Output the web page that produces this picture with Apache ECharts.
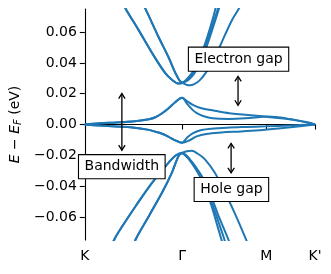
<!DOCTYPE html>
<html><head><meta charset="utf-8">
<script src="https://cdn.jsdelivr.net/npm/echarts@6/dist/echarts.min.js"></script>
<style>html,body{margin:0;padding:0;background:#fff}#c{width:331px;height:274px}</style>
</head><body><div id="c"></div>
<script>
// k-path positions (K, Γ, M, K') and labels
const kTicks = [0, 1.3333, 2.4880, 3.1547];
const kTickLabels = ['K', 'Γ', 'M', "K'"];
const eTicks = [-0.06, -0.04, -0.02, 0, 0.02, 0.04, 0.06];

// flat bands
const flatA = [[0,0],[0.203,0.0008],[0.428,0.0013],[0.653,0.0019],[0.879,0.0034],[0.968,0.0047],[1.059,0.0073],[1.149,0.0106],[1.239,0.0145],[1.333,0.0174],[1.40,0.0152],[1.48,0.0128],[1.60,0.0105],[1.75,0.0092],[1.98,0.0073],[2.20,0.0064],[2.43,0.0053],[2.65,0.0042],[2.88,0.0030],[3.05,0.0014],[3.155,0]];
const flatB = [[0,0],[0.203,0.0008],[0.428,0.0013],[0.653,0.0019],[0.879,0.0034],[0.968,0.0047],[1.059,0.0073],[1.149,0.0106],[1.239,0.0145],[1.333,0.0174],[1.40,0.0135],[1.47,0.0098],[1.53,0.0075],[1.62,0.0055],[1.75,0.0040],[1.98,0.0036],[2.20,0.0040],[2.40,0.0048],[2.50,0.0052],[2.65,0.0047],[2.80,0.0036],[2.95,0.0022],[3.155,0]];
const flatC = [[0,0],[0.203,-0.0007],[0.428,-0.0013],[0.653,-0.0019],[0.879,-0.0035],[0.968,-0.0047],[1.059,-0.0060],[1.149,-0.0080],[1.239,-0.0103],[1.333,-0.0118],[1.397,-0.0088],[1.478,-0.0057],[1.60,-0.0036],[1.735,-0.0027],[1.978,-0.0020],[2.208,-0.0016],[2.478,-0.0012],[2.817,-0.0006],[3.155,0]];
const flatD = [[0,0],[0.203,-0.0007],[0.428,-0.0013],[0.653,-0.0019],[0.879,-0.0035],[0.968,-0.0047],[1.059,-0.0060],[1.149,-0.0080],[1.239,-0.0103],[1.333,-0.0118],[1.437,-0.0102],[1.532,-0.0077],[1.667,-0.0061],[1.87,-0.0052],[2.14,-0.0045],[2.438,-0.0036],[2.817,-0.0018],[3.155,0]];

// remote conduction bands
const cond1 = [[0.491,0.0814],[0.563,0.0749],[0.744,0.0608],[0.924,0.0463],[1.103,0.0333],[1.194,0.0291],[1.285,0.0266],[1.333,0.0269],[1.40,0.0295],[1.47,0.0335],[1.54,0.0395],[1.61,0.0475],[1.68,0.0570],[1.75,0.0680],[1.80,0.0770],[1.84,0.0850]];
const cond2 = [[0.76,0.0814],[0.833,0.0749],[1.014,0.0565],[1.149,0.0435],[1.261,0.0316],[1.333,0.0273],[1.40,0.0287],[1.47,0.0322],[1.54,0.0378],[1.61,0.0455],[1.68,0.0545],[1.75,0.0645],[1.83,0.0760],[1.88,0.0840]];
const cond3 = [[0.76,0.0814],[0.833,0.0749],[1.014,0.0565],[1.149,0.0435],[1.261,0.0316],[1.333,0.0273],[1.40,0.0283],[1.47,0.0312],[1.54,0.0362],[1.61,0.0435],[1.68,0.0520],[1.75,0.0620],[1.82,0.0725],[1.87,0.0800],[1.92,0.0880]];
const cond4 = [[0.491,0.0814],[0.563,0.0749],[0.744,0.0608],[0.924,0.0463],[1.103,0.0333],[1.194,0.0291],[1.285,0.0266],[1.333,0.0269],[1.40,0.0257],[1.44,0.0255],[1.50,0.0262],[1.57,0.0285],[1.65,0.0330],[1.73,0.0395],[1.82,0.0475],[1.92,0.0580],[2.02,0.0680],[2.12,0.0760],[2.20,0.0840]];

// remote valence bands
const val1 = [[0.315,-0.0842],[0.406,-0.0745],[0.518,-0.0658],[0.698,-0.0529],[0.924,-0.0377],[1.149,-0.0247],[1.25,-0.0200],[1.333,-0.0184],[1.40,-0.0174],[1.464,-0.0171],[1.55,-0.0190],[1.644,-0.0225],[1.780,-0.0312],[1.92,-0.0440],[2.05,-0.0571],[2.208,-0.0745],[2.262,-0.0810]];
const val2 = [[0.626,-0.0842],[0.698,-0.0745],[0.879,-0.0594],[1.059,-0.0442],[1.194,-0.0312],[1.285,-0.0204],[1.333,-0.0186],[1.40,-0.0212],[1.464,-0.0250],[1.555,-0.0318],[1.644,-0.0400],[1.735,-0.0525],[1.80,-0.0630],[1.871,-0.0745],[1.92,-0.0820]];
const val3 = [[0.626,-0.0842],[0.698,-0.0745],[0.879,-0.0594],[1.059,-0.0442],[1.194,-0.0312],[1.285,-0.0204],[1.333,-0.0186],[1.40,-0.0208],[1.464,-0.0245],[1.555,-0.0308],[1.644,-0.0383],[1.735,-0.0500],[1.826,-0.0625],[1.912,-0.0745],[1.96,-0.0820]];
const val4 = [[0.315,-0.0842],[0.406,-0.0745],[0.518,-0.0658],[0.698,-0.0529],[0.924,-0.0377],[1.149,-0.0247],[1.25,-0.0200],[1.333,-0.0184],[1.40,-0.0205],[1.464,-0.0240],[1.555,-0.0300],[1.644,-0.0370],[1.735,-0.0470],[1.826,-0.0585],[1.90,-0.0670],[1.966,-0.0745],[2.02,-0.0820]];

const bands = [flatA, flatB, flatC, flatD, cond1, cond2, cond3, cond4, val1, val2, val3, val4];

// annotations
const noteTexts = ['Electron gap', 'Bandwidth', 'Hole gap'];
const noteK = [2.107, 0.507, 2.009];
const noteE = [0.0424, -0.0274, -0.0422];
const arrowK = [2.10, 0.508, 2.005];
const arrowTop = [0.0312, 0.0201, -0.0123];
const arrowBottom = [0.0125, -0.0167, -0.0314];

const FONT = 'DejaVu Sans';
const chart = echarts.init(document.getElementById('c'), null, {renderer: 'canvas'});

const series = bands.map(b => ({
  type: 'line', data: b, showSymbol: false, smooth: 0.35,
  lineStyle: {color: '#1f77b4', width: 2}, itemStyle: {color: '#1f77b4'},
  clip: true, silent: true, z: 2
}));

series.push({
  type: 'custom', z: 5, clip: false, silent: true,
  data: arrowK.map((k, i) => [k, arrowTop[i], arrowBottom[i]]),
  encode: {x: 0, y: [1, 2]},
  renderItem: (params, api) => {
    const p0 = api.coord([api.value(0), api.value(1)]);
    const p1 = api.coord([api.value(0), api.value(2)]);
    const h = 5, w = 3.2;
    const st = {stroke: '#000', fill: null, lineWidth: 1.3};
    return {type: 'group', children: [
      {type: 'line', shape: {x1: p0[0], y1: p0[1], x2: p1[0], y2: p1[1]}, style: st},
      {type: 'polyline', shape: {points: [[p0[0]-w, p0[1]+h], [p0[0], p0[1]], [p0[0]+w, p0[1]+h]]}, style: st},
      {type: 'polyline', shape: {points: [[p1[0]-w, p1[1]-h], [p1[0], p1[1]], [p1[0]+w, p1[1]-h]]}, style: st}
    ]};
  }
});

series.push({
  type: 'scatter', z: 10, silent: true, symbolSize: 0,
  itemStyle: {opacity: 1, color: '#000'},
  data: noteK.map((k, i) => ({value: [k, noteE[i]], name: noteTexts[i]})),
  label: {
    show: true, position: 'inside', formatter: p => p.name, opacity: 1,
    fontFamily: FONT, fontSize: 14, color: '#000', lineHeight: 15,
    backgroundColor: '#fff', borderColor: '#000', borderWidth: 1.1,
    padding: [4, 5.5, 4, 5.5]
  },
  emphasis: {disabled: true}
});

chart.setOption({
  animation: false,
  backgroundColor: '#fff',
  grid: {left: 82, right: 16, top: 9, bottom: 34, containLabel: false},
  xAxis: {
    type: 'value', min: 0, max: kTicks[3],
    axisLine: {show: true, lineStyle: {color: '#000', width: 1.1}},
    axisTick: {show: true, customValues: kTicks, length: 5, lineStyle: {color: '#000', width: 1.1}},
    axisLabel: {
      customValues: kTicks, showMinLabel: true, showMaxLabel: true, margin: 9,
      fontFamily: FONT, fontSize: 14, color: '#000',
      formatter: v => { const i = kTicks.findIndex(t => Math.abs(t - v) < 1e-3); return i >= 0 ? kTickLabels[i] : ''; }
    },
    splitLine: {show: false}
  },
  yAxis: {
    type: 'value', min: -0.075, max: 0.075,
    name: '{i|E} − {i|E}{s|F} (eV)', nameLocation: 'middle', nameGap: 57,
    nameTextStyle: {
      fontFamily: FONT, fontSize: 14, color: '#000',
      rich: {
        i: {fontFamily: FONT, fontSize: 14, fontStyle: 'italic', color: '#000'},
        s: {fontFamily: FONT, fontSize: 10, fontStyle: 'italic', color: '#000', verticalAlign: 'bottom', padding: [6, 0, 0, 0]}
      }
    },
    axisLine: {show: true, lineStyle: {color: '#000', width: 1.1}},
    axisTick: {show: true, customValues: eTicks, length: 5, lineStyle: {color: '#000', width: 1.1}},
    axisLabel: {
      customValues: eTicks, margin: 8, fontFamily: FONT, fontSize: 14, color: '#000',
      formatter: v => v.toFixed(2).replace('-', '−')
    },
    splitLine: {show: false}
  },
  series
});
</script></body></html>
